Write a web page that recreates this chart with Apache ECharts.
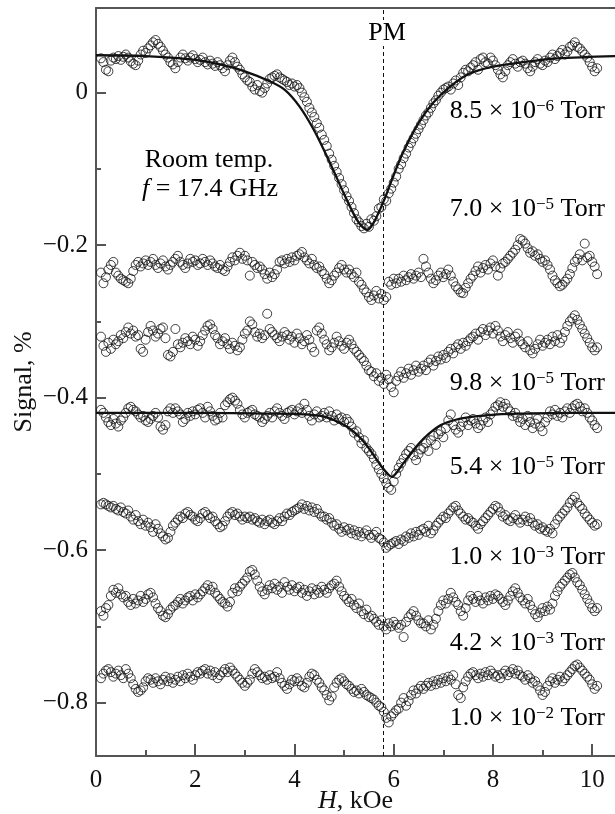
<!DOCTYPE html>
<html>
<head>
<meta charset="utf-8">
<script src="https://cdn.jsdelivr.net/npm/echarts@6/dist/echarts.min.js"></script>
<style>
  html, body { margin: 0; padding: 0; background: #fff; }
  #chart { width: 615px; height: 814px; }
</style>
</head>
<body>
<div id="chart"></div>
<script>
// field sweep, kOe
let H = [
  0.1, 0.15, 0.2, 0.25, 0.3, 0.35, 0.4, 0.45, 0.5, 0.55,
  0.6, 0.65, 0.7, 0.75, 0.8, 0.85, 0.9, 0.95, 1, 1.05,
  1.1, 1.15, 1.2, 1.25, 1.3, 1.35, 1.4, 1.45, 1.5, 1.55,
  1.6, 1.65, 1.7, 1.75, 1.8, 1.85, 1.9, 1.95, 2, 2.05,
  2.1, 2.15, 2.2, 2.25, 2.3, 2.35, 2.4, 2.45, 2.5, 2.55,
  2.6, 2.65, 2.7, 2.75, 2.8, 2.85, 2.9, 2.95, 3, 3.05,
  3.1, 3.15, 3.2, 3.25, 3.3, 3.35, 3.4, 3.45, 3.5, 3.55,
  3.6, 3.65, 3.7, 3.75, 3.8, 3.85, 3.9, 3.95, 4, 4.05,
  4.1, 4.15, 4.2, 4.25, 4.3, 4.35, 4.4, 4.45, 4.5, 4.55,
  4.6, 4.65, 4.7, 4.75, 4.8, 4.85, 4.9, 4.95, 5, 5.05,
  5.1, 5.15, 5.2, 5.25, 5.3, 5.35, 5.4, 5.45, 5.5, 5.55,
  5.6, 5.65, 5.7, 5.75, 5.8, 5.85, 5.9, 5.95, 6, 6.05,
  6.1, 6.15, 6.2, 6.25, 6.3, 6.35, 6.4, 6.45, 6.5, 6.55,
  6.6, 6.65, 6.7, 6.75, 6.8, 6.85, 6.9, 6.95, 7, 7.05,
  7.1, 7.15, 7.2, 7.25, 7.3, 7.35, 7.4, 7.45, 7.5, 7.55,
  7.6, 7.65, 7.7, 7.75, 7.8, 7.85, 7.9, 7.95, 8, 8.05,
  8.1, 8.15, 8.2, 8.25, 8.3, 8.35, 8.4, 8.45, 8.5, 8.55,
  8.6, 8.65, 8.7, 8.75, 8.8, 8.85, 8.9, 8.95, 9, 9.05,
  9.1, 9.15, 9.2, 9.25, 9.3, 9.35, 9.4, 9.45, 9.5, 9.55,
  9.6, 9.65, 9.7, 9.75, 9.8, 9.85, 9.9, 9.95, 10, 10.05,
  10.1
]

// signal, % (curves are shifted vertically as in the figure)
let sig_85e6 = [
  0.045, 0.040, 0.030, 0.028, 0.042, 0.046, 0.044, 0.048, 0.043, 0.047,
  0.050, 0.046, 0.041, 0.038, 0.036, 0.042, 0.050, 0.055, 0.052, 0.058,
  0.062, 0.066, 0.069, 0.064, 0.060, 0.055, 0.050, 0.046, 0.040, 0.037,
  0.032, 0.040, 0.046, 0.050, 0.045, 0.042, 0.046, 0.049, 0.044, 0.040,
  0.043, 0.046, 0.040, 0.037, 0.042, 0.038, 0.035, 0.040, 0.036, 0.032,
  0.028, 0.036, 0.042, 0.046, 0.040, 0.034, 0.030, 0.024, 0.020, 0.016,
  0.014, 0.008, 0.004, 0.010, 0.002, 0.000, 0.006, 0.012, 0.018, 0.020,
  0.022, 0.024, 0.020, 0.018, 0.016, 0.014, 0.010, 0.012, 0.008, 0.010,
  0.006, 0.000, -0.006, -0.012, -0.020, -0.026, -0.032, -0.040, -0.046, -0.055,
  -0.062, -0.070, -0.080, -0.088, -0.096, -0.104, -0.112, -0.120, -0.128, -0.136,
  -0.142, -0.150, -0.158, -0.166, -0.170, -0.175, -0.178, -0.172, -0.176, -0.166,
  -0.168, -0.162, -0.152, -0.150, -0.140, -0.142, -0.132, -0.126, -0.118, -0.110,
  -0.100, -0.094, -0.086, -0.080, -0.072, -0.066, -0.060, -0.054, -0.048, -0.042,
  -0.036, -0.030, -0.026, -0.020, -0.014, -0.010, -0.004, 0.000, 0.004, 0.006,
  0.008, 0.004, 0.012, 0.016, 0.010, 0.020, 0.026, 0.030, 0.028, 0.033,
  0.036, 0.040, 0.030, 0.044, 0.046, 0.040, 0.038, 0.046, 0.042, 0.036,
  0.030, 0.024, 0.020, 0.028, 0.036, 0.040, 0.044, 0.038, 0.034, 0.040,
  0.042, 0.038, 0.032, 0.028, 0.034, 0.040, 0.044, 0.038, 0.036, 0.042,
  0.040, 0.046, 0.050, 0.044, 0.048, 0.052, 0.056, 0.050, 0.054, 0.060,
  0.062, 0.066, 0.060, 0.058, 0.054, 0.050, 0.046, 0.040, 0.034, 0.028,
  0.032
]

let sig_70e5 = [
  -0.236, -0.250, -0.242, -0.232, -0.226, -0.222, -0.236, -0.240, -0.244, -0.246,
  -0.248, -0.250, -0.244, -0.234, -0.226, -0.222, -0.228, -0.224, -0.220, -0.226,
  -0.222, -0.218, -0.226, -0.230, -0.224, -0.220, -0.228, -0.232, -0.226, -0.222,
  -0.218, -0.214, -0.222, -0.226, -0.230, -0.224, -0.218, -0.222, -0.220, -0.226,
  -0.224, -0.218, -0.222, -0.226, -0.220, -0.224, -0.228, -0.230, -0.226, -0.232,
  -0.234, -0.228, -0.222, -0.216, -0.220, -0.214, -0.210, -0.218, -0.214, -0.220,
  -0.240, -0.222, -0.226, -0.230, -0.228, -0.232, -0.238, -0.244, -0.236, -0.242,
  -0.238, -0.232, -0.222, -0.220, -0.224, -0.218, -0.222, -0.216, -0.220, -0.214,
  -0.212, -0.209, -0.216, -0.220, -0.224, -0.218, -0.226, -0.230, -0.228, -0.234,
  -0.238, -0.244, -0.250, -0.246, -0.240, -0.236, -0.230, -0.226, -0.232, -0.236,
  -0.232, -0.238, -0.242, -0.236, -0.248, -0.252, -0.258, -0.262, -0.268, -0.272,
  -0.266, -0.260, -0.270, -0.264, -0.272, -0.268, -0.248, -0.252, -0.244, -0.250,
  -0.244, -0.248, -0.240, -0.246, -0.242, -0.238, -0.244, -0.240, -0.236, -0.242,
  -0.218, -0.228, -0.236, -0.244, -0.250, -0.246, -0.240, -0.236, -0.242, -0.238,
  -0.232, -0.240, -0.248, -0.254, -0.258, -0.262, -0.263, -0.256, -0.250, -0.244,
  -0.240, -0.234, -0.228, -0.236, -0.230, -0.226, -0.232, -0.224, -0.220, -0.228,
  -0.240, -0.230, -0.224, -0.222, -0.218, -0.214, -0.210, -0.206, -0.200, -0.192,
  -0.194, -0.198, -0.204, -0.210, -0.208, -0.214, -0.212, -0.218, -0.222, -0.220,
  -0.226, -0.232, -0.240, -0.246, -0.250, -0.254, -0.252, -0.248, -0.244, -0.238,
  -0.230, -0.222, -0.218, -0.212, -0.220, -0.198, -0.216, -0.214, -0.222, -0.228,
  -0.238
]

let sig_98e5 = [
  -0.320, -0.332, -0.340, -0.328, -0.336, -0.324, -0.330, -0.326, -0.318, -0.322,
  -0.314, -0.308, -0.316, -0.312, -0.320, -0.318, -0.336, -0.340, -0.324, -0.314,
  -0.306, -0.312, -0.320, -0.316, -0.310, -0.308, -0.322, -0.344, -0.346, -0.340,
  -0.310, -0.330, -0.334, -0.328, -0.322, -0.326, -0.330, -0.320, -0.324, -0.332,
  -0.326, -0.318, -0.312, -0.306, -0.304, -0.310, -0.318, -0.322, -0.330, -0.326,
  -0.322, -0.330, -0.336, -0.328, -0.332, -0.338, -0.334, -0.324, -0.316, -0.312,
  -0.300, -0.304, -0.314, -0.320, -0.316, -0.322, -0.318, -0.290, -0.310, -0.314,
  -0.318, -0.322, -0.326, -0.320, -0.314, -0.318, -0.324, -0.320, -0.328, -0.316,
  -0.322, -0.330, -0.326, -0.318, -0.324, -0.334, -0.340, -0.312, -0.308, -0.316,
  -0.324, -0.330, -0.338, -0.334, -0.328, -0.320, -0.326, -0.332, -0.336, -0.328,
  -0.324, -0.330, -0.336, -0.340, -0.344, -0.348, -0.352, -0.358, -0.364, -0.366,
  -0.372, -0.368, -0.378, -0.374, -0.382, -0.370, -0.376, -0.386, -0.393, -0.378,
  -0.372, -0.366, -0.374, -0.368, -0.362, -0.370, -0.364, -0.358, -0.366, -0.362,
  -0.358, -0.364, -0.354, -0.350, -0.358, -0.352, -0.346, -0.350, -0.344, -0.348,
  -0.340, -0.336, -0.342, -0.334, -0.330, -0.336, -0.328, -0.332, -0.326, -0.322,
  -0.320, -0.316, -0.324, -0.314, -0.310, -0.318, -0.312, -0.308, -0.316, -0.306,
  -0.312, -0.320, -0.326, -0.318, -0.314, -0.322, -0.328, -0.320, -0.316, -0.326,
  -0.330, -0.334, -0.326, -0.338, -0.342, -0.336, -0.330, -0.324, -0.332, -0.328,
  -0.324, -0.330, -0.320, -0.326, -0.318, -0.328, -0.322, -0.314, -0.306, -0.300,
  -0.296, -0.292, -0.298, -0.304, -0.310, -0.316, -0.322, -0.328, -0.334, -0.338,
  -0.334
]

let sig_54e5 = [
  -0.416, -0.420, -0.426, -0.432, -0.436, -0.428, -0.434, -0.438, -0.430, -0.426,
  -0.420, -0.414, -0.412, -0.416, -0.418, -0.422, -0.426, -0.424, -0.430, -0.432,
  -0.428, -0.424, -0.420, -0.426, -0.438, -0.442, -0.436, -0.418, -0.414, -0.420,
  -0.414, -0.418, -0.422, -0.432, -0.428, -0.420, -0.424, -0.418, -0.422, -0.416,
  -0.414, -0.420, -0.426, -0.412, -0.418, -0.424, -0.430, -0.428, -0.420, -0.426,
  -0.410, -0.406, -0.402, -0.400, -0.404, -0.408, -0.416, -0.422, -0.426, -0.420,
  -0.418, -0.416, -0.422, -0.424, -0.426, -0.432, -0.428, -0.424, -0.420, -0.426,
  -0.418, -0.414, -0.420, -0.424, -0.428, -0.420, -0.418, -0.416, -0.422, -0.418,
  -0.414, -0.420, -0.408, -0.416, -0.424, -0.430, -0.422, -0.418, -0.426, -0.424,
  -0.420, -0.426, -0.418, -0.424, -0.430, -0.422, -0.428, -0.426, -0.432, -0.428,
  -0.432, -0.438, -0.446, -0.444, -0.452, -0.460, -0.456, -0.466, -0.470, -0.474,
  -0.480, -0.488, -0.494, -0.500, -0.506, -0.512, -0.518, -0.521, -0.510, -0.500,
  -0.492, -0.486, -0.480, -0.474, -0.470, -0.466, -0.476, -0.482, -0.474, -0.468,
  -0.466, -0.460, -0.470, -0.456, -0.450, -0.462, -0.448, -0.444, -0.452, -0.440,
  -0.430, -0.422, -0.436, -0.442, -0.446, -0.438, -0.432, -0.426, -0.436, -0.430,
  -0.428, -0.434, -0.440, -0.436, -0.430, -0.426, -0.432, -0.422, -0.418, -0.412,
  -0.410, -0.406, -0.412, -0.408, -0.414, -0.418, -0.424, -0.420, -0.426, -0.432,
  -0.428, -0.436, -0.424, -0.432, -0.440, -0.434, -0.428, -0.438, -0.444, -0.432,
  -0.426, -0.418, -0.422, -0.416, -0.424, -0.420, -0.426, -0.418, -0.414, -0.420,
  -0.414, -0.410, -0.408, -0.412, -0.418, -0.414, -0.420, -0.426, -0.430, -0.436,
  -0.440
]

let sig_10e3 = [
  -0.540, -0.538, -0.540, -0.542, -0.544, -0.542, -0.546, -0.548, -0.544, -0.550,
  -0.552, -0.548, -0.556, -0.560, -0.554, -0.562, -0.566, -0.560, -0.568, -0.564,
  -0.570, -0.576, -0.566, -0.572, -0.578, -0.582, -0.586, -0.584, -0.576, -0.568,
  -0.564, -0.560, -0.556, -0.558, -0.552, -0.550, -0.554, -0.556, -0.560, -0.562,
  -0.558, -0.552, -0.550, -0.554, -0.558, -0.556, -0.562, -0.566, -0.570, -0.568,
  -0.562, -0.556, -0.552, -0.550, -0.554, -0.552, -0.556, -0.560, -0.556, -0.558,
  -0.556, -0.560, -0.558, -0.562, -0.564, -0.560, -0.566, -0.562, -0.560, -0.564,
  -0.566, -0.562, -0.558, -0.562, -0.556, -0.552, -0.554, -0.550, -0.548, -0.546,
  -0.544, -0.540, -0.546, -0.542, -0.548, -0.544, -0.550, -0.546, -0.552, -0.556,
  -0.556, -0.560, -0.558, -0.564, -0.568, -0.566, -0.572, -0.576, -0.570, -0.574,
  -0.572, -0.578, -0.574, -0.580, -0.576, -0.582, -0.578, -0.574, -0.580, -0.584,
  -0.580, -0.576, -0.584, -0.586, -0.590, -0.597, -0.594, -0.592, -0.590, -0.588,
  -0.592, -0.586, -0.588, -0.582, -0.584, -0.578, -0.582, -0.576, -0.580, -0.574,
  -0.572, -0.576, -0.568, -0.578, -0.574, -0.568, -0.564, -0.560, -0.556, -0.558,
  -0.552, -0.548, -0.544, -0.542, -0.548, -0.552, -0.556, -0.560, -0.558, -0.562,
  -0.564, -0.568, -0.572, -0.566, -0.562, -0.558, -0.554, -0.550, -0.546, -0.542,
  -0.544, -0.550, -0.556, -0.554, -0.560, -0.562, -0.558, -0.554, -0.560, -0.564,
  -0.560, -0.556, -0.562, -0.558, -0.564, -0.568, -0.566, -0.572, -0.570, -0.574,
  -0.576, -0.572, -0.578, -0.566, -0.560, -0.556, -0.552, -0.548, -0.544, -0.538,
  -0.534, -0.530, -0.538, -0.542, -0.546, -0.552, -0.556, -0.560, -0.564, -0.568,
  -0.566
]

let sig_42e3 = [
  -0.680, -0.686, -0.676, -0.672, -0.660, -0.652, -0.656, -0.650, -0.658, -0.662,
  -0.660, -0.668, -0.672, -0.664, -0.670, -0.666, -0.660, -0.668, -0.664, -0.658,
  -0.656, -0.662, -0.670, -0.676, -0.680, -0.686, -0.688, -0.684, -0.678, -0.674,
  -0.672, -0.668, -0.664, -0.670, -0.666, -0.662, -0.660, -0.666, -0.658, -0.662,
  -0.658, -0.654, -0.650, -0.646, -0.652, -0.648, -0.656, -0.660, -0.664, -0.668,
  -0.670, -0.674, -0.668, -0.656, -0.650, -0.654, -0.648, -0.644, -0.640, -0.636,
  -0.628, -0.626, -0.632, -0.640, -0.648, -0.654, -0.658, -0.652, -0.646, -0.650,
  -0.644, -0.652, -0.648, -0.656, -0.642, -0.648, -0.652, -0.646, -0.654, -0.650,
  -0.648, -0.656, -0.652, -0.660, -0.654, -0.650, -0.658, -0.652, -0.656, -0.648,
  -0.652, -0.656, -0.650, -0.646, -0.644, -0.640, -0.648, -0.654, -0.660, -0.664,
  -0.668, -0.664, -0.672, -0.676, -0.670, -0.680, -0.684, -0.678, -0.688, -0.686,
  -0.690, -0.694, -0.698, -0.692, -0.700, -0.704, -0.696, -0.700, -0.694, -0.698,
  -0.702, -0.698, -0.714, -0.694, -0.688, -0.684, -0.680, -0.686, -0.692, -0.696,
  -0.696, -0.700, -0.692, -0.704, -0.698, -0.690, -0.680, -0.672, -0.666, -0.670,
  -0.664, -0.656, -0.662, -0.668, -0.672, -0.680, -0.686, -0.676, -0.666, -0.660,
  -0.664, -0.668, -0.660, -0.666, -0.670, -0.662, -0.666, -0.660, -0.664, -0.658,
  -0.660, -0.664, -0.668, -0.672, -0.666, -0.660, -0.654, -0.650, -0.656, -0.662,
  -0.666, -0.670, -0.664, -0.672, -0.678, -0.684, -0.688, -0.682, -0.676, -0.680,
  -0.674, -0.678, -0.670, -0.660, -0.654, -0.648, -0.644, -0.640, -0.636, -0.632,
  -0.630, -0.636, -0.642, -0.646, -0.652, -0.658, -0.664, -0.670, -0.676, -0.680,
  -0.676
]

let sig_10e2 = [
  -0.768, -0.762, -0.758, -0.756, -0.760, -0.766, -0.762, -0.758, -0.764, -0.768,
  -0.756, -0.762, -0.768, -0.776, -0.782, -0.786, -0.784, -0.780, -0.772, -0.768,
  -0.770, -0.774, -0.768, -0.772, -0.776, -0.770, -0.766, -0.772, -0.768, -0.774,
  -0.770, -0.766, -0.772, -0.764, -0.768, -0.762, -0.766, -0.770, -0.764, -0.760,
  -0.762, -0.758, -0.756, -0.762, -0.758, -0.764, -0.760, -0.768, -0.764, -0.760,
  -0.756, -0.760, -0.754, -0.758, -0.762, -0.766, -0.770, -0.774, -0.778, -0.774,
  -0.770, -0.762, -0.756, -0.760, -0.764, -0.768, -0.766, -0.770, -0.764, -0.768,
  -0.766, -0.760, -0.768, -0.774, -0.778, -0.782, -0.776, -0.770, -0.772, -0.768,
  -0.772, -0.778, -0.780, -0.774, -0.766, -0.762, -0.764, -0.770, -0.774, -0.780,
  -0.784, -0.790, -0.797, -0.792, -0.780, -0.774, -0.770, -0.768, -0.772, -0.776,
  -0.778, -0.782, -0.786, -0.784, -0.788, -0.782, -0.786, -0.790, -0.792, -0.794,
  -0.796, -0.800, -0.804, -0.806, -0.812, -0.820, -0.826, -0.818, -0.814, -0.810,
  -0.808, -0.800, -0.794, -0.804, -0.798, -0.790, -0.784, -0.788, -0.782, -0.778,
  -0.782, -0.778, -0.774, -0.778, -0.772, -0.776, -0.770, -0.774, -0.768, -0.772,
  -0.766, -0.770, -0.764, -0.776, -0.790, -0.794, -0.780, -0.772, -0.766, -0.762,
  -0.760, -0.764, -0.768, -0.762, -0.766, -0.760, -0.764, -0.758, -0.762, -0.766,
  -0.764, -0.768, -0.762, -0.758, -0.764, -0.760, -0.756, -0.762, -0.758, -0.764,
  -0.766, -0.770, -0.764, -0.768, -0.774, -0.772, -0.778, -0.784, -0.790, -0.786,
  -0.778, -0.772, -0.768, -0.774, -0.770, -0.766, -0.772, -0.768, -0.764, -0.760,
  -0.756, -0.752, -0.750, -0.754, -0.758, -0.762, -0.766, -0.770, -0.776, -0.782,
  -0.778
]

// fitted curves
let fit_85e6_H = [0, 1, 2, 2.5, 3, 3.5, 3.8, 4.1, 4.4, 4.7, 5.0, 5.2, 5.35, 5.47, 5.6, 5.8, 6.0, 6.2, 6.5, 6.8, 7.1, 7.5, 8.0, 8.6, 9.3, 10.46]
let fit_85e6_S = [0.049, 0.048, 0.043, 0.037, 0.028, 0.015, 0.004, -0.018, -0.050, -0.090, -0.133, -0.160, -0.175, -0.180, -0.170, -0.142, -0.108, -0.077, -0.040, -0.013, 0.006, 0.024, 0.034, 0.040, 0.045, 0.048]
let fit_54e5_H = [0, 2, 3.5, 4.2, 4.6, 5.0, 5.25, 5.45, 5.6, 5.75, 5.88, 5.96, 6.05, 6.15, 6.3, 6.5, 6.7, 6.95, 7.25, 7.6, 8.1, 8.6, 9.5, 10.46]
let fit_54e5_S = [-0.420, -0.420, -0.421, -0.422, -0.425, -0.436, -0.448, -0.462, -0.476, -0.490, -0.500, -0.504, -0.499, -0.490, -0.477, -0.461, -0.448, -0.436, -0.429, -0.425, -0.422, -0.421, -0.420, -0.420]

let yMajor = [0, -0.2, -0.4, -0.6, -0.8]
let yMinor = [-0.1, -0.3, -0.5, -0.7]
let xMajor = [0, 2, 4, 6, 8, 10]
let xMinor = [1, 3, 5, 7, 9]
let pmField = 5.79

let pressureLabels = [
  {mant: '8.5', exp: '\u22126', y: 111},
  {mant: '7.0', exp: '\u22125', y: 209},
  {mant: '9.8', exp: '\u22125', y: 383},
  {mant: '5.4', exp: '\u22125', y: 467},
  {mant: '1.0', exp: '\u22123', y: 557},
  {mant: '4.2', exp: '\u22123', y: 643},
  {mant: '1.0', exp: '\u22122', y: 718}
]

let serif = 'Liberation Serif'
let ink = '#111'
let axisCol = '#555'

function pairs(xs, ys) {
  return xs.map((x, i) => [x, ys[i]])
}

function dots(vals) {
  return {
    type: 'scatter',
    data: pairs(H, vals),
    symbol: 'circle',
    symbolSize: 9,
    itemStyle: {color: 'rgba(0,0,0,0)', borderColor: ink, borderWidth: 1},
    silent: true
  }
}

function fit(xs, ys) {
  return {
    type: 'line',
    data: pairs(xs, ys),
    smooth: 0.3,
    showSymbol: false,
    lineStyle: {color: ink, width: 2.3},
    silent: true,
    z: 3
  }
}

let rich = {
  n: {fontFamily: serif, fontSize: 26, color: ink},
  s: {fontFamily: serif, fontSize: 17, color: ink, verticalAlign: 'top'},
  i: {fontFamily: serif, fontSize: 26, color: ink, fontStyle: 'italic'}
}

let graphics = pressureLabels.map(p => ({
  type: 'text',
  style: {
    x: 605, y: p.y,
    text: '{n|' + p.mant + ' \u00d7 10}{s|' + p.exp + '}{n| Torr}',
    rich: rich,
    align: 'right', verticalAlign: 'middle',
    textAlign: 'right', textVerticalAlign: 'middle'
  }
}))
graphics.push(
  {type: 'text', style: {x: 209, y: 160, text: '{n|Room temp.}', rich: rich,
    align: 'center', verticalAlign: 'middle', textAlign: 'center', textVerticalAlign: 'middle'}},
  {type: 'text', style: {x: 210, y: 189, text: '{i|f}{n| = 17.4 GHz}', rich: rich,
    align: 'center', verticalAlign: 'middle', textAlign: 'center', textVerticalAlign: 'middle'}},
  {type: 'text', z: 10, style: {x: 387, y: 33, text: '{n|PM}', rich: rich, backgroundColor: '#fff',
    align: 'center', verticalAlign: 'middle', textAlign: 'center', textVerticalAlign: 'middle'}}
)

let tickLine = {color: axisCol, width: 2}

let chart = echarts.init(document.getElementById('chart'))
chart.setOption({
  animation: false,
  backgroundColor: '#fff',
  grid: {left: 96, right: 0, top: 8, bottom: 58, containLabel: false, outerBoundsMode: 'none'},
  xAxis: [
    {
      type: 'value', min: 0, max: 10.46, position: 'bottom',
      axisLine: {onZero: false, lineStyle: tickLine},
      axisTick: {inside: true, length: 12, customValues: xMajor, lineStyle: tickLine},
      axisLabel: {customValues: xMajor, margin: 12, fontFamily: serif, fontSize: 25, color: ink},
      splitLine: {show: false},
      name: '{i|H}{n|, kOe}',
      nameLocation: 'middle', nameGap: 32, nameMoveOverlap: false,
      nameTextStyle: {rich: rich}
    },
    {
      type: 'value', min: 0, max: 10.46, position: 'bottom',
      axisLine: {show: false, onZero: false},
      axisTick: {inside: true, length: 6, customValues: xMinor, lineStyle: tickLine},
      axisLabel: {show: false},
      splitLine: {show: false}
    },
    {
      type: 'value', min: 0, max: 10.46, position: 'top',
      axisLine: {onZero: false, lineStyle: tickLine},
      axisTick: {show: false},
      axisLabel: {show: false},
      splitLine: {show: false}
    }
  ],
  yAxis: [
    {
      type: 'value', min: -0.87, max: 0.111, position: 'left',
      axisLine: {onZero: false, lineStyle: tickLine},
      axisTick: {inside: true, length: 10, customValues: yMajor, lineStyle: tickLine},
      axisLabel: {
        customValues: yMajor, margin: 8, fontFamily: serif, fontSize: 25, color: ink,
        formatter: v => v === 0 ? '0' : (v < 0 ? '\u2212' : '') + Math.abs(v).toFixed(1)
      },
      splitLine: {show: false},
      name: 'Signal, %',
      nameLocation: 'middle', nameGap: 59, nameRotate: 90, nameMoveOverlap: false,
      nameTextStyle: {fontFamily: serif, fontSize: 26, color: ink}
    },
    {
      type: 'value', min: -0.87, max: 0.111, position: 'left',
      axisLine: {show: false, onZero: false},
      axisTick: {inside: true, length: 5, customValues: yMinor, lineStyle: tickLine},
      axisLabel: {show: false},
      splitLine: {show: false}
    }
  ],
  graphic: graphics,
  series: [
    Object.assign(dots(sig_85e6), {
      markLine: {
        silent: true, symbol: 'none', label: {show: false},
        lineStyle: {type: [4, 3], color: ink, width: 1},
        data: [{xAxis: pmField}]
      }
    }),
    dots(sig_70e5),
    dots(sig_98e5),
    dots(sig_54e5),
    dots(sig_10e3),
    dots(sig_42e3),
    dots(sig_10e2),
    fit(fit_85e6_H, fit_85e6_S),
    fit(fit_54e5_H, fit_54e5_S)
  ]
})
</script>
</body>
</html>
